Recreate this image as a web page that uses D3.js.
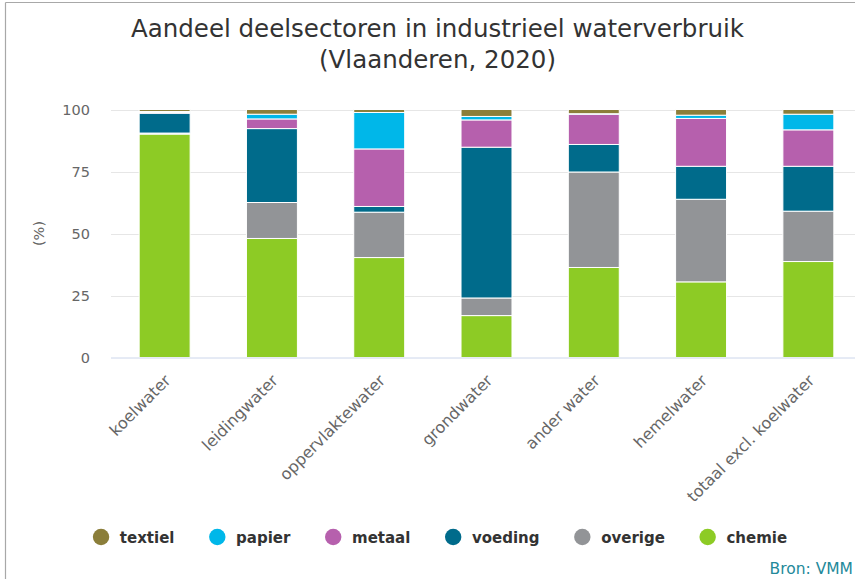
<!DOCTYPE html>
<html><head><meta charset="utf-8">
<script src="https://cdn.jsdelivr.net/npm/d3@7"></script>
<style>html,body{margin:0;padding:0;background:#fff;}svg{display:block;}</style>
</head><body>
<svg id="c" width="855" height="579"></svg>
<script>
const categories = ["koelwater","leidingwater","oppervlaktewater","grondwater","ander water","hemelwater","totaal excl. koelwater"];
const chemie  = [90.1, 48.0, 40.3, 16.9, 36.3, 30.5, 38.7];
const overige = [0.4, 14.5, 18.3, 7.1, 38.5, 33.3, 20.3];
const voeding = [8.0, 29.8, 2.3, 60.8, 11.1, 13.3, 18.1];
const metaal  = [0.3, 3.9, 23.2, 11.0, 12.2, 19.3, 14.7];
const papier  = [0.4, 1.9, 14.7, 1.4, 0.2, 1.3, 6.3];
const textiel = [0.8, 1.9, 1.2, 2.8, 1.7, 2.3, 1.9];
const yTicks = [0, 25, 50, 75, 100];
const seriesNames = ["chemie","overige","voeding","metaal","papier","textiel"];
const seriesValues = [chemie, overige, voeding, metaal, papier, textiel];
const colors = {textiel:"#8b7e3a", papier:"#00b7e9", metaal:"#b660ad", voeding:"#006b8b", overige:"#929497", chemie:"#8dcb25"};
const legendOrder = ["textiel","papier","metaal","voeding","overige","chemie"];
const titleLines = ["Aandeel deelsectoren in industrieel waterverbruik","(Vlaanderen, 2020)"];
const yTitle = "(%)";
const credit = "Bron: VMM";

const svg = d3.select("#c");
const font = "DejaVu Sans, sans-serif";
const plot = {left:111, right:862, top:109.5, bottom:357.5};

// frame
svg.append("line").attr("x1",5.5).attr("x2",855).attr("y1",2.5).attr("y2",2.5).attr("stroke","#a8a8a8").attr("stroke-width",1.2);
svg.append("line").attr("x1",5.5).attr("x2",5.5).attr("y1",2.5).attr("y2",579).attr("stroke","#a8a8a8").attr("stroke-width",1.2);

// title
const t = svg.append("text").attr("text-anchor","middle").attr("font-family",font).attr("font-size",24.5).attr("fill","#333");
titleLines.forEach((l,i)=> t.append("tspan").attr("x",437.5).attr("y",37+i*31).text(l));

const x = d3.scaleBand().domain(categories).range([plot.left, plot.right]).paddingInner(0.525).paddingOuter(0.2625);
const y = d3.scaleLinear().domain([0,100]).range([plot.bottom, plot.top]);

// grid
svg.append("g").selectAll("line").data(yTicks.filter(d=>d>0)).join("line")
  .attr("x1",plot.left).attr("x2",plot.right)
  .attr("y1",d=>Math.round(y(d))+0.5).attr("y2",d=>Math.round(y(d))+0.5)
  .attr("stroke","#e6e6e6").attr("stroke-width",1);

// y axis labels
const yAxis = d3.axisLeft(y).tickValues(yTicks).tickSize(0).tickPadding(0);
const gy = svg.append("g").attr("transform",`translate(${plot.left-21},0)`).call(yAxis);
gy.select(".domain").remove();
gy.selectAll("text").attr("font-family",font).attr("font-size",14.5).attr("fill","#666");

svg.append("text").attr("transform",`translate(44,${(plot.top+plot.bottom)/2}) rotate(-90)`)
  .attr("text-anchor","middle").attr("font-family",font).attr("font-size",14.5).attr("fill","#666").text(yTitle);

// stacked data
const rows = categories.map((c,i)=>{const o={cat:c}; seriesNames.forEach((s,j)=>o[s]=seriesValues[j][i]); return o;});
const stack = d3.stack().keys(seriesNames)(rows);
svg.append("g").selectAll("g").data(stack).join("g").attr("fill",d=>colors[d.key])
  .selectAll("rect").data(d=>d).join("rect")
  .attr("x",d=>x(d.data.cat)).attr("width",x.bandwidth())
  .attr("y",d=>y(d[1])).attr("height",d=>Math.max(0,y(d[0])-y(d[1])))
  .attr("stroke","#fff").attr("stroke-width",1);

// x axis line
svg.append("line").attr("x1",plot.left).attr("x2",plot.right).attr("y1",plot.bottom+0.5).attr("y2",plot.bottom+0.5).attr("stroke","#ccd6eb");

// x labels
const xAxis = d3.axisBottom(x).tickSize(0).tickPadding(0);
const gx = svg.append("g").attr("transform",`translate(0,${plot.bottom})`).call(xAxis);
gx.select(".domain").remove();
gx.selectAll("text").attr("font-family",font).attr("font-size",16).attr("fill","#666")
  .attr("text-anchor","end").attr("dy",null).attr("y",null)
  .attr("transform","translate(7,24) rotate(-45)");

// legend
const lg = svg.append("g");
const items = legendOrder.map(k=>{
  const g = lg.append("g");
  g.append("circle").attr("r",8.2).attr("cx",8.2).attr("cy",0).attr("fill",colors[k]);
  const tx = g.append("text").attr("x",27).attr("y",5.5).attr("font-family",font).attr("font-size",15).attr("font-weight","bold").attr("fill","#333").text(k);
  return {g, w: 27 + tx.node().getComputedTextLength()};
});
const gap = 34.6;
const total = d3.sum(items,d=>d.w) + gap*(items.length-1);
let cx0 = 440 - total/2;
items.forEach(it=>{ it.g.attr("transform",`translate(${cx0},537)`); cx0 += it.w + gap; });

// credit
svg.append("text").attr("x",853).attr("y",574).attr("text-anchor","end").attr("font-family",font).attr("font-size",15.5).attr("fill","#23899a").text(credit);
</script>
</body></html>
